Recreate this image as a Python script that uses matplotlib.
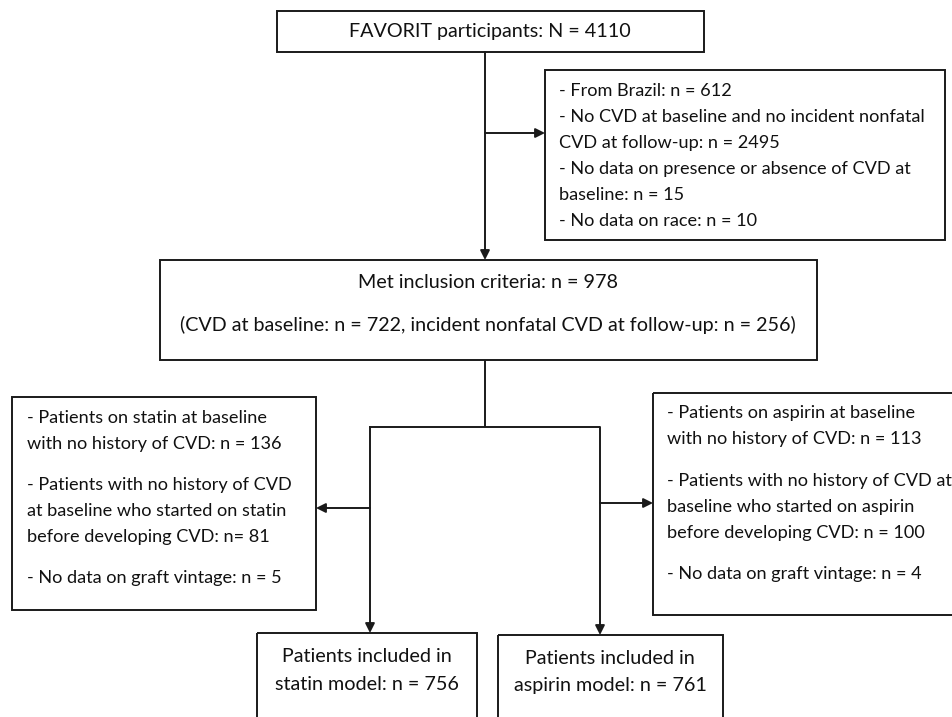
import matplotlib.pyplot as plt
from matplotlib.patches import Rectangle

# ---------------- text of the flow chart ----------------
top_text = "FAVORIT participants: N = 4110"
excl_lines = ["- From Brazil: n = 612",
              "- No CVD at baseline and no incident nonfatal",
              "CVD at follow-up: n = 2495",
              "- No data on presence or absence of CVD at",
              "baseline: n = 15",
              "- No data on race: n = 10"]
met_lines = ["Met inclusion criteria: n = 978",
             "(CVD at baseline: n = 722, incident nonfatal CVD at follow-up: n = 256)"]
statin_excl = ["- Patients on statin at baseline",
               "with no history of CVD: n = 136",
               "- Patients with no history of CVD",
               "at baseline who started on statin",
               "before developing CVD: n= 81",
               "- No data on graft vintage: n = 5"]
aspirin_excl = ["- Patients on aspirin at baseline",
                "with no history of CVD: n = 113",
                "- Patients with no history of CVD at",
                "baseline who started on aspirin",
                "before developing CVD: n = 100",
                "- No data on graft vintage: n = 4"]
statin_final = ["Patients included in", "statin model: n = 756"]
aspirin_final = ["Patients included in", "aspirin model: n = 761"]
# ---------------------------------------------------------

plt.rcParams['font.family'] = ['Lato', 'DejaVu Sans']
fig = plt.figure(figsize=(9.52, 7.17), dpi=100)
ax = fig.add_axes([0, 0, 1, 1])
ax.set_xlim(0, 952)
ax.set_ylim(717, 0)
ax.axis('off')

fs_side = 13.1   # side boxes
fs_main = 14.2   # boxes on the main path
col = '#1a1a1a'
tcol = '#111111'


def box(x0, y0, x1, y1):
    ax.add_patch(Rectangle((x0, y0), x1 - x0, y1 - y0, fill=False,
                           lw=1.4, ec=col, clip_on=True))


def lines_at(x, ys, lines, fs, ha='left'):
    for y, t in zip(ys, lines):
        ax.text(x, y, t, fontsize=fs, ha=ha, va='center', color=tcol)


def line(xs, ys):
    ax.plot(xs, ys, color=col, lw=1.4, solid_capstyle='butt')


def arrow(x0, y0, x1, y1):
    ax.annotate('', xy=(x1, y1), xytext=(x0, y0),
                arrowprops=dict(arrowstyle='-|>', color=col, lw=1.4,
                                mutation_scale=14, shrinkA=0, shrinkB=0))


# boxes
box(277, 11, 704, 52)
ax.text(490, 32, top_text, fontsize=fs_main, ha='center', va='center', color=tcol)

box(545, 70, 945, 240)
lines_at(559, [91, 117, 143, 169, 195, 221], excl_lines, fs_side)

box(160, 260, 817, 360)
ax.text(488, 282, met_lines[0], fontsize=fs_main, ha='center', va='center', color=tcol)
ax.text(488, 325, met_lines[1], fontsize=fs_main, ha='center', va='center', color=tcol)

box(12, 397, 316, 610)
lines_at(27, [418, 444, 485, 511, 537, 578], statin_excl, fs_side)

box(653, 393, 960, 615)
lines_at(667, [413, 439, 481, 507, 533, 574], aspirin_excl, fs_side)

box(257, 633, 477, 740)
lines_at(367, [656, 684], statin_final, fs_main, ha='center')
box(498, 635, 723, 740)
lines_at(610, [658, 686], aspirin_final, fs_main, ha='center')

# connectors
arrow(485, 52, 485, 260)
arrow(485, 133, 545, 133)
line([485, 485], [360, 427])
line([369, 600], [427, 427])
arrow(370, 427, 370, 633)
arrow(600, 427, 600, 635)
arrow(370, 508, 316, 508)
arrow(600, 503, 653, 503)

fig.savefig('out.png', dpi=100)
